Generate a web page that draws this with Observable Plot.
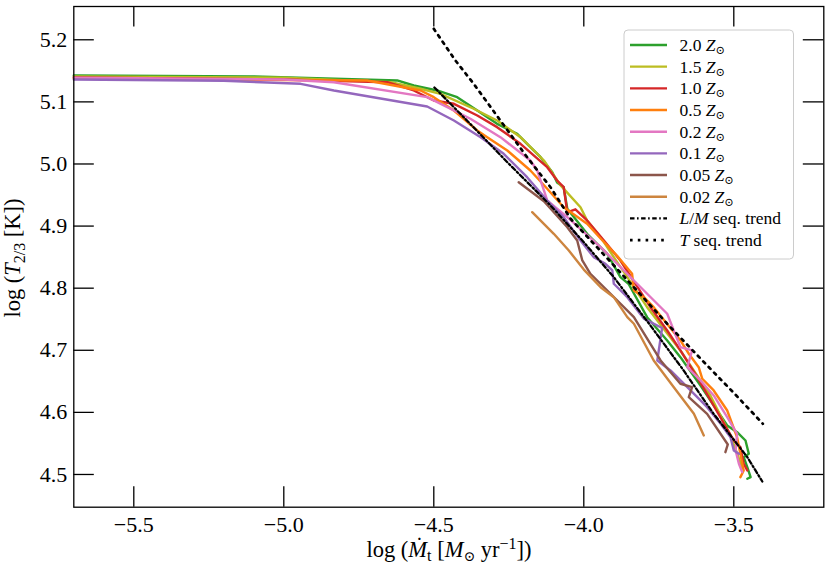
<!DOCTYPE html>
<html><head><meta charset="utf-8">
<script src="https://cdn.jsdelivr.net/npm/d3@7"></script>
<script src="https://cdn.jsdelivr.net/npm/@observablehq/plot@0.6"></script>
<style>body{margin:0;background:#fff;}</style>
</head><body><div id="chart"></div>
<script>
const xTicks = [-5.5, -5.0, -4.5, -4.0, -3.5];
const yTicks = [4.5, 4.6, 4.7, 4.8, 4.9, 5.0, 5.1, 5.2];
const labels = ["2.0", "1.5", "1.0", "0.5", "0.2", "0.1", "0.05", "0.02"];
const colors = ["#2ca02c", "#bcbd22", "#d62728", "#ff7f0e", "#e377c2", "#9467bd", "#8c564b", "#cd853f"];

const z20 = [[-5.7,5.1425],[-5.111,5.141],[-4.622,5.1345],[-4.567,5.1264],[-4.489,5.1184],[-4.422,5.1076],[-4.355,5.0861],[-4.289,5.0647],[-4.222,5.0486],[-4.178,5.0271],[-4.144,5.011],[-4.105,4.9868],[-4.089,4.9702],[-4.067,4.9626],[-4.055,4.9279],[-3.989,4.8876],[-3.922,4.8554],[-3.878,4.8177],[-3.851,4.8071],[-3.789,4.7533],[-3.722,4.7158],[-3.678,4.6889],[-3.611,4.6433],[-3.522,4.5789],[-3.489,4.5681],[-3.461,4.5547],[-3.45,4.5333],[-3.467,4.5279],[-3.455,4.5118],[-3.444,4.4957],[-3.455,4.4931]];
const z15 = [[-5.7,5.1409],[-5.0,5.139],[-4.644,5.1317],[-4.544,5.1211],[-4.478,5.113],[-4.367,5.0889],[-4.289,5.07],[-4.211,5.0432],[-4.133,5.0056],[-4.078,4.966],[-4.011,4.9304],[-3.989,4.909],[-3.944,4.8821],[-3.9,4.85],[-3.855,4.8177],[-3.811,4.7855],[-3.789,4.7694],[-3.755,4.748],[-3.678,4.6997],[-3.578,4.6272],[-3.511,4.5628],[-3.471,4.5097]];
const z10 = [[-5.7,5.1393],[-5.0,5.136],[-4.655,5.1317],[-4.567,5.1184],[-4.5,5.1023],[-4.433,5.0969],[-4.355,5.0781],[-4.289,5.0593],[-4.211,5.0325],[-4.122,4.9948],[-4.089,4.9734],[-4.067,4.9626],[-4.055,4.922],[-4.028,4.927],[-3.989,4.909],[-3.933,4.8768],[-3.878,4.8446],[-3.778,4.7694],[-3.722,4.7319],[-3.678,4.6997],[-3.622,4.6567],[-3.5,4.5547],[-3.478,4.5439],[-3.467,4.5172],[-3.455,4.5065]];
const z05 = [[-5.7,5.138],[-5.0,5.135],[-4.722,5.1345],[-4.544,5.1184],[-4.5,5.1076],[-4.433,5.0861],[-4.355,5.0539],[-4.322,5.0432],[-4.255,5.0217],[-4.178,4.9895],[-4.122,4.9601],[-4.067,4.9304],[-3.989,4.9037],[-3.944,4.88],[-3.889,4.852],[-3.839,4.8232],[-3.833,4.7963],[-3.8,4.7855],[-3.767,4.7694],[-3.678,4.7158],[-3.65,4.6944],[-3.617,4.6728],[-3.605,4.6541],[-3.567,4.6353],[-3.522,4.603],[-3.489,4.56],[-3.467,4.5065],[-3.478,4.4957]];
const z02 = [[-5.7,5.139],[-5.0,5.136],[-4.833,5.1317],[-4.522,5.1076],[-4.455,5.0915],[-4.378,5.0728],[-4.278,5.0432],[-4.178,5.0056],[-4.155,4.9895],[-4.133,4.9573],[-4.122,4.9412],[-4.055,4.9143],[-3.944,4.866],[-3.833,4.8124],[-3.722,4.7588],[-3.678,4.705],[-3.639,4.6997],[-3.655,4.6728],[-3.611,4.6514],[-3.567,4.6272],[-3.522,4.5923],[-3.489,4.5655],[-3.494,4.5386],[-3.483,4.5172],[-3.472,4.5038]];
const z01 = [[-5.7,5.1361],[-5.2,5.134],[-4.944,5.1291],[-4.833,5.1184],[-4.522,5.0926],[-4.433,5.07],[-4.344,5.0432],[-4.267,5.0164],[-4.189,4.9787],[-4.122,4.9412],[-4.067,4.9143],[-4.011,4.8768],[-3.967,4.85],[-3.928,4.8393],[-3.905,4.8285],[-3.9,4.8071],[-3.855,4.7855],[-3.8,4.751],[-3.739,4.7359],[-3.755,4.6836],[-3.711,4.6675],[-3.655,4.6406],[-3.611,4.6192],[-3.589,4.6084],[-3.544,4.5816],[-3.511,4.56],[-3.5,4.5386],[-3.483,4.5333]];
const z005 = [[-4.217,4.9707],[-4.133,4.94],[-4.055,4.8982],[-4.022,4.8768],[-4.005,4.8446],[-3.978,4.8232],[-3.911,4.791],[-3.833,4.7533],[-3.744,4.6836],[-3.678,4.6461],[-3.639,4.6406],[-3.65,4.6245],[-3.589,4.5977],[-3.52,4.5483],[-3.528,4.5359]];
const z002 = [[-4.172,4.9224],[-4.1,4.8876],[-4.05,4.8607],[-4.0,4.83],[-3.944,4.8016],[-3.9,4.7855],[-3.855,4.7533],[-3.833,4.7427],[-3.767,4.6836],[-3.7,4.6406],[-3.633,4.5977],[-3.6,4.5628]];
const lmTrend = [[-4.498,5.1232],[-4.384,5.0673],[-4.255,5.0029],[-4.111,4.9332],[-4.0,4.874],[-3.9,4.8177],[-3.778,4.7399],[-3.672,4.6707],[-3.568,4.5982],[-3.455,4.5279],[-3.405,4.4887]];
const tTrend = [[-4.5,5.2177],[-4.428,5.1667],[-4.367,5.1291],[-4.278,5.07],[-4.189,5.0109],[-4.111,4.9626],[-4.044,4.9118],[-3.878,4.8253],[-3.722,4.7427],[-3.605,4.6836],[-3.494,4.6283],[-3.403,4.5816]];

const series = [z20, z15, z10, z05, z02, z01, z005, z002];
const X = d => d[0], Y = d => d[1];
const fmt = d3.format(".1f");
const FONT = "'Liberation Serif', 'DejaVu Serif', serif";
const LM_DASH = "4.5,2.5,1.6,2.5";
const T_DASH = "2.6,5.2";

const W = 831, H = 575, ML = 73.3, MR = 7.7, MT = 6, MB = 68.3;
const innerW = W - ML - MR, innerH = H - MT - MB, TICK = 20.5;

const plot = Plot.plot({
  width: W, height: H,
  marginLeft: ML, marginRight: MR, marginTop: MT, marginBottom: MB,
  style: {fontFamily: FONT, fontSize: "22px", background: "white", color: "black", overflow: "visible"},
  x: {domain: [-5.7, -3.2], label: null},
  y: {domain: [4.4473, 5.2536], label: null},
  marks: [
    ...series.map((s, i) => Plot.line(s, {x: X, y: Y, stroke: colors[i], strokeWidth: 2.4})),
    Plot.line(lmTrend, {x: X, y: Y, stroke: "black", strokeWidth: 2.3, strokeDasharray: LM_DASH}),
    Plot.line(tTrend, {x: X, y: Y, stroke: "black", strokeWidth: 2.7, strokeDasharray: T_DASH}),
    Plot.tickX(xTicks, {x: d => d, insetTop: innerH - TICK, stroke: "black", strokeWidth: 1.3}),
    Plot.tickX(xTicks, {x: d => d, insetBottom: innerH - TICK, stroke: "black", strokeWidth: 1.3}),
    Plot.tickY(yTicks, {y: d => d, insetRight: innerW - TICK, stroke: "black", strokeWidth: 1.3}),
    Plot.tickY(yTicks, {y: d => d, insetLeft: innerW - TICK, stroke: "black", strokeWidth: 1.3}),
    Plot.frame({stroke: "black", strokeWidth: 1.3}),
    Plot.axisX(xTicks, {anchor: "bottom", tickSize: 0, tickPadding: 9, tickFormat: fmt, fontSize: 22, label: null}),
    Plot.axisY(yTicks, {anchor: "left", tickSize: 0, tickPadding: 6.5, tickFormat: fmt, fontSize: 22, label: null})
  ]
});
document.getElementById("chart").appendChild(plot);

const svg = d3.select(plot);

// Axis labels
const xl = svg.append("text").attr("x", 449).attr("y", 557).attr("text-anchor", "middle")
  .attr("font-family", FONT).attr("font-size", 22.5).attr("fill", "black");
xl.append("tspan").text("log (");
xl.append("tspan").attr("font-style", "italic").text("Ṁ");
xl.append("tspan").attr("font-size", 16).attr("dy", 4).text("t");
xl.append("tspan").attr("dy", -4).text(" [");
xl.append("tspan").attr("font-style", "italic").text("M");
xl.append("tspan").attr("font-size", 14).attr("dy", 4).text("⊙");
xl.append("tspan").attr("dy", -4).text(" yr");
xl.append("tspan").attr("font-size", 16).attr("dy", -8).text("−1");
xl.append("tspan").attr("dy", 8).text("])");

const yl = svg.append("text").attr("transform", "translate(20,258) rotate(-90)").attr("text-anchor", "middle")
  .attr("font-family", FONT).attr("font-size", 22.5).attr("fill", "black");
yl.append("tspan").text("log (");
yl.append("tspan").attr("font-style", "italic").text("T");
yl.append("tspan").attr("font-size", 16).attr("dy", 5).text("2/3");
yl.append("tspan").attr("dy", -5).text(" [K])");

// Legend
const lg = svg.append("g").attr("text-anchor", "start");
lg.append("rect").attr("x", 624).attr("y", 30).attr("width", 169.5).attr("height", 229).attr("rx", 4)
  .attr("fill", "white").attr("fill-opacity", 0.85).attr("stroke", "#cccccc").attr("stroke-width", 1);
const entries = labels.map((l, i) => ({kind: "z", label: l, color: colors[i]}))
  .concat([{kind: "lm"}, {kind: "t"}]);
entries.forEach((e, i) => {
  const cy = 45 + i * 21.67;
  const line = lg.append("line").attr("x1", 630).attr("x2", 667).attr("y1", cy).attr("y2", cy);
  if (e.kind === "z") line.attr("stroke", e.color).attr("stroke-width", 2.4);
  else if (e.kind === "lm") line.attr("stroke", "black").attr("stroke-width", 2.3).attr("stroke-dasharray", LM_DASH);
  else line.attr("stroke", "black").attr("stroke-width", 2.7).attr("stroke-dasharray", T_DASH);
  const t = lg.append("text").attr("x", 679.5).attr("y", cy + 6).attr("font-family", FONT)
    .attr("font-size", 17.5).attr("fill", "black").attr("text-anchor", "start");
  if (e.kind === "z") {
    t.append("tspan").text(e.label + " ");
    t.append("tspan").attr("font-style", "italic").text("Z");
    t.append("tspan").attr("font-size", 11.5).attr("dy", 3).text("⊙");
  } else if (e.kind === "lm") {
    t.append("tspan").attr("font-style", "italic").text("L");
    t.append("tspan").text("/");
    t.append("tspan").attr("font-style", "italic").text("M");
    t.append("tspan").text(" seq. trend");
  } else {
    t.append("tspan").attr("font-style", "italic").text("T");
    t.append("tspan").text(" seq. trend");
  }
});
</script>
</body></html>
